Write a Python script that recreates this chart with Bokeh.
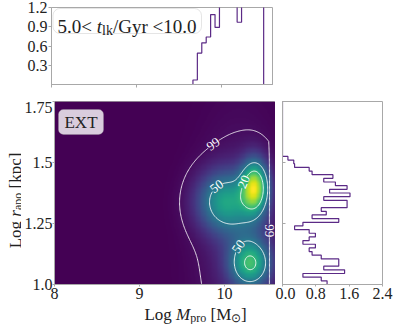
import numpy as np
import contourpy
from bokeh.plotting import figure
from bokeh.layouts import column, row
from bokeh.models import FixedTicker, Label, BoxAnnotation
from bokeh.palettes import Viridis256
from bokeh.embed import file_html
from bokeh.resources import INLINE

FONT = "Liberation Serif"
TXT = "#222222"
SPINE = "#a8a8a8"
HIST = "#5b2a86"

# ---------------- data ----------------
mpro_range = (8.0, 10.6)
rapo_range = (1.0, 1.75)
n_bins = 50
mpro_hist = [0.0] * 32 + [0.07, 0.49, 0.65, 0.74, 1.09, 0.89, 1.35, 1.60, 1.80, 1.90,
                          0.97, 2.00, 1.85, 1.65, 1.45, 1.30] + [0.0, 0.0]
rapo_hist = [1.07, 0.93, 0.49, 1.49, 0.99, 1.35, 1.35, 0.93, 0.71, 0.64, 0.79, 0.49,
             0.64, 0.79, 0.64, 0.29, 0.49, 1.35, 0.71, 1.05, 0.93, 1.55, 1.55, 0.99,
             1.62, 1.13, 1.55, 1.27, 0.99, 1.21, 0.71, 0.64, 0.29, 0.27, 0.13] + [0.0] * 15

# density components: centre, widths, weights
comp_x = [10.36, 10.31, 10.00, 10.27, 10.17]
comp_y = [1.400, 1.085, 1.34, 1.22, 1.15]
comp_sx = [0.11, 0.16, 0.22, 0.22, 0.32]
comp_sy = [0.075, 0.065, 0.085, 0.14, 0.32]
comp_w = [1.0, 0.72, 0.62, 0.10, 0.12]

contour_names = ["99", "50", "20"]
contour_frac = [0.035, 0.41, 0.66]
contour_cut_x = 10.52

clabel_level = [0, 0, 1, 2, 1]
clabel_x = [10.00, 10.515, 9.94, 10.17, 10.15]
clabel_y = [1.515, 1.22, 1.39, 1.43, 1.16]

main_x_ticks = [8, 9, 10]
main_y_ticks = [1.0, 1.25, 1.5, 1.75]
main_y_labels = ["1.0", "1.25", "1.5", "1.75"]
top_y_ticks = [0.3, 0.6, 0.9, 1.2]
top_y_labels = ["0.3", "0.6", "0.9", "1.2"]
right_x_ticks = [0.0, 0.8, 1.6, 2.4]
right_x_labels = ["0.0", "0.8", "1.6", "2.4"]

# ---------------- geometry ----------------
FW, FH = 221, 183
RW = 100
TH = 77
YLW = 21          # width of the y-label strip
XLH = 17          # height of the x-label strip
MB = 23           # main bottom border (tick labels)
SX = FW / (mpro_range[1] - mpro_range[0])
SY = FH / (rapo_range[1] - rapo_range[0])
TSY = TH / 1.2


def style(p):
    p.outline_line_color = SPINE
    p.xgrid.visible = False
    p.ygrid.visible = False
    p.background_fill_color = "white"
    p.border_fill_color = "white"
    for ax in p.xaxis + p.yaxis:
        ax.axis_line_color = SPINE
        ax.major_tick_line_color = SPINE
        ax.minor_tick_line_color = None
        ax.major_label_text_font = FONT
        ax.major_label_text_font_size = "16px"
        ax.major_label_text_color = TXT


def blank(w, h):
    f = figure(frame_width=w, frame_height=h, x_range=(0, w), y_range=(0, h),
               min_border_left=0, min_border_right=0, min_border_top=0, min_border_bottom=0,
               x_axis_location=None, y_axis_location=None,
               output_backend="svg", toolbar_location=None)
    f.outline_line_color = None
    f.xgrid.visible = False
    f.ygrid.visible = False
    f.border_fill_color = "white"
    f.background_fill_color = "white"
    return f


# ---------------- rich text helper ----------------
W_REG = {' ': 250, '.': 250, '/': 278, '<': 564, '[': 333, ']': 333, 'E': 611, 'G': 722,
         'L': 611, 'M': 889, 'X': 722, 'T': 611, 'a': 444, 'c': 444, 'g': 500, 'k': 500,
         'l': 278, 'o': 500, 'p': 500, 'r': 333, 'y': 500, 't': 278, '\u2299': 800}
for d in "0123456789":
    W_REG[d] = 500
W_IT = {'M': 833, 'r': 389, 't': 278}


def piece_w(s, size, st):
    tab = W_IT if st == "italic" else W_REG
    return sum(tab.get(c, W_REG.get(c, 500)) for c in s) * size / 1000.0


def rich(p, pieces, x0, y0, sx, sy, vertical=False, center=True):
    total = sum(piece_w(t, s, st) for t, s, st, dy in pieces)
    off = -total / 2 if center else 0.0
    for t, s, st, dy in pieces:
        lead = len(t) - len(t.lstrip(" "))
        trail = len(t) - len(t.rstrip(" "))
        core = t.strip(" ")
        off += piece_w(" " * lead, s, st)
        if vertical:
            x = x0 - dy / sx
            y = y0 + off / sy
            ang = np.pi / 2
        else:
            x = x0 + off / sx
            y = y0 + dy / sy
            ang = 0.0
        p.add_layout(Label(x=x, y=y, text=core, angle=ang, text_font=FONT,
                           text_font_size=f"{s}px", text_font_style=st, text_color=TXT,
                           text_align="left", text_baseline="alphabetic"))
        off += piece_w(core, s, st) + piece_w(" " * trail, s, st)


# ---------------- top histogram ----------------
top = figure(frame_width=FW, frame_height=TH, x_range=mpro_range, y_range=(0, 1.2),
             min_border_left=51, min_border_right=119, min_border_top=7, min_border_bottom=17,
             output_backend="svg", toolbar_location=None)
style(top)
top.xaxis.ticker = FixedTicker(ticks=main_x_ticks)
top.xaxis.major_label_overrides = {t: "" for t in main_x_ticks}
top.xaxis.major_label_standoff = 0
top.xaxis.major_tick_out = 3
top.xaxis.major_tick_in = 0
top.yaxis.ticker = FixedTicker(ticks=top_y_ticks)
top.yaxis.major_label_overrides = dict(zip(top_y_ticks, top_y_labels))
top.yaxis.major_tick_out = 3
top.yaxis.major_tick_in = 0
top.yaxis.major_label_standoff = 1

edges_m = np.linspace(mpro_range[0], mpro_range[1], n_bins + 1)
tx, ty = [edges_m[0]], [0.0]
for i, v in enumerate(mpro_hist):
    tx += [edges_m[i], edges_m[i + 1]]
    ty += [v, v]
tx.append(edges_m[-1]); ty.append(0.0)
top.line(tx, ty, line_color=HIST, line_width=1.2)

top.add_layout(BoxAnnotation(left=8.0 + 1.5 / SX, right=8.0 + 150 / SX,
                             top=1.2 - 1 / TSY, bottom=1.2 - 26 / TSY,
                             fill_color="white", fill_alpha=0.8, line_color="#aaaaaa",
                             line_width=1, border_radius=7))
rich(top, [("5.0< ", 19, "normal", 0), ("t", 19, "italic", 0), ("lk", 14, "normal", -4),
           ("/Gyr <10.0", 19, "normal", 0)],
     8.0 + 6 / SX, 1.2 - 19 / TSY, SX, TSY, center=False)

# ---------------- main density panel ----------------
main = figure(frame_width=FW, frame_height=FH, x_range=mpro_range, y_range=rapo_range,
              min_border_left=30, min_border_right=0, min_border_top=0, min_border_bottom=MB,
              output_backend="svg", toolbar_location=None)
style(main)
main.xaxis.ticker = FixedTicker(ticks=main_x_ticks)
main.xaxis.major_tick_out = 2
main.xaxis.major_tick_in = 0
main.xaxis.major_label_standoff = 1
main.yaxis.ticker = FixedTicker(ticks=main_y_ticks)
main.yaxis.major_label_overrides = dict(zip(main_y_ticks, main_y_labels))
main.yaxis.major_tick_out = 2
main.yaxis.major_tick_in = 0
main.yaxis.major_label_standoff = 0

xg = np.linspace(mpro_range[0], mpro_range[1], 261)
yg = np.linspace(rapo_range[0], rapo_range[1], 151)
XX, YY = np.meshgrid(xg, yg)
Z = np.zeros_like(XX)
for cx, cy, sx_, sy_, w in zip(comp_x, comp_y, comp_sx, comp_sy, comp_w):
    Z += w * np.exp(-0.5 * (((XX - cx) / sx_) ** 2 + ((YY - cy) / sy_) ** 2))
zmax = Z.max()

main.image(image=[Z], x=mpro_range[0], y=rapo_range[0], dw=mpro_range[1] - mpro_range[0],
           dh=rapo_range[1] - rapo_range[0], palette=Viridis256)

Zc = Z.copy()
Zc[:, xg > contour_cut_x] = 0.0
gen = contourpy.contour_generator(xg, yg, Zc)
level_lines = []
for frac in contour_frac:
    lines = gen.lines(frac * zmax)
    level_lines.append(lines)
    main.multi_line([list(l[:, 0]) for l in lines], [list(l[:, 1]) for l in lines],
                    line_color="white", line_alpha=0.85, line_width=1.0)

for li, lx, ly in zip(clabel_level, clabel_x, clabel_y):
    best = None
    for l in level_lines[li]:
        d = ((l[:, 0] - lx) * SX) ** 2 + ((l[:, 1] - ly) * SY) ** 2
        k = int(np.argmin(d))
        if best is None or d[k] < best[0]:
            best = (d[k], l, k)
    if best is None:
        continue
    _, l, k = best
    k0, k1 = max(k - 2, 0), min(k + 2, len(l) - 1)
    ang = np.arctan2((l[k1, 1] - l[k0, 1]) * SY, (l[k1, 0] - l[k0, 0]) * SX)
    if ang > np.pi / 2:
        ang -= np.pi
    if ang <= -np.pi / 2:
        ang += np.pi
    px, py = l[k, 0], l[k, 1]
    iz = np.interp(px, xg, np.arange(len(xg)))
    jz = np.interp(py, yg, np.arange(len(yg)))
    zval = Z[int(round(jz)), int(round(iz))]
    col = Viridis256[int(np.clip(zval / zmax, 0, 1) * 255)]
    main.add_layout(Label(x=px, y=py, text=contour_names[li], angle=ang, text_font=FONT,
                          text_font_size="13px", text_color="white", text_align="center",
                          text_baseline="middle", background_fill_color=col))

main.add_layout(BoxAnnotation(left=8.0 + 4 / SX, right=8.0 + 49 / SX,
                              top=1.75 - 8 / SY, bottom=1.75 - 33 / SY,
                              fill_color="white", fill_alpha=0.8, line_color="#999999",
                              line_width=1, border_radius=5))
main.add_layout(Label(x=8.0 + 26.5 / SX, y=1.75 - 21 / SY, text="EXT", text_font=FONT,
                      text_font_size="17px", text_color=TXT, text_align="center",
                      text_baseline="middle"))

# ---------------- axis-label strips ----------------
ylab = blank(YLW, FH + MB + XLH)
rich(ylab, [("Log ", 17, "normal", 0), ("r", 17, "italic", 0), ("apo", 12, "normal", -3),
            (" [kpc]", 17, "normal", 0)],
     14.5, (FH + MB + XLH) - (208 - 109), 1, 1, vertical=True)

xlab = blank(30 + FW, XLH)
rich(xlab, [("Log ", 17, "normal", 0), ("M", 17, "italic", 0), ("pro", 12, "normal", -3.5),
            (" [M", 17, "normal", 0), ("\u2299", 12, "normal", -3.5), ("]", 17, "normal", 0)],
     170 - 29, 10, 1, 1)

# ---------------- right histogram ----------------
right = figure(frame_width=RW, frame_height=FH, x_range=(0, 2.4), y_range=rapo_range,
               min_border_left=7, min_border_right=12, min_border_top=0,
               min_border_bottom=MB + XLH,
               output_backend="svg", toolbar_location=None)
style(right)
right.xaxis.ticker = FixedTicker(ticks=right_x_ticks)
right.xaxis.major_label_overrides = dict(zip(right_x_ticks, right_x_labels))
right.xaxis.major_tick_out = 2
right.xaxis.major_tick_in = 0
right.xaxis.major_label_standoff = 1
right.yaxis.ticker = FixedTicker(ticks=main_y_ticks)
right.yaxis.major_label_overrides = {t: "" for t in main_y_ticks}
right.yaxis.major_label_standoff = 0
right.yaxis.major_tick_out = 0
right.yaxis.major_tick_in = 3

edges_r = np.linspace(rapo_range[0], rapo_range[1], n_bins + 1)
rx, ry = [0.0], [edges_r[0]]
for i, v in enumerate(rapo_hist):
    rx += [v, v]
    ry += [edges_r[i], edges_r[i + 1]]
rx.append(0.0); ry.append(edges_r[-1])
right.line(rx, ry, line_color=HIST, line_width=1.2)

layout = column(top, row(ylab, column(main, xlab), right))
open("out.html", "w").write(file_html(layout, INLINE))
